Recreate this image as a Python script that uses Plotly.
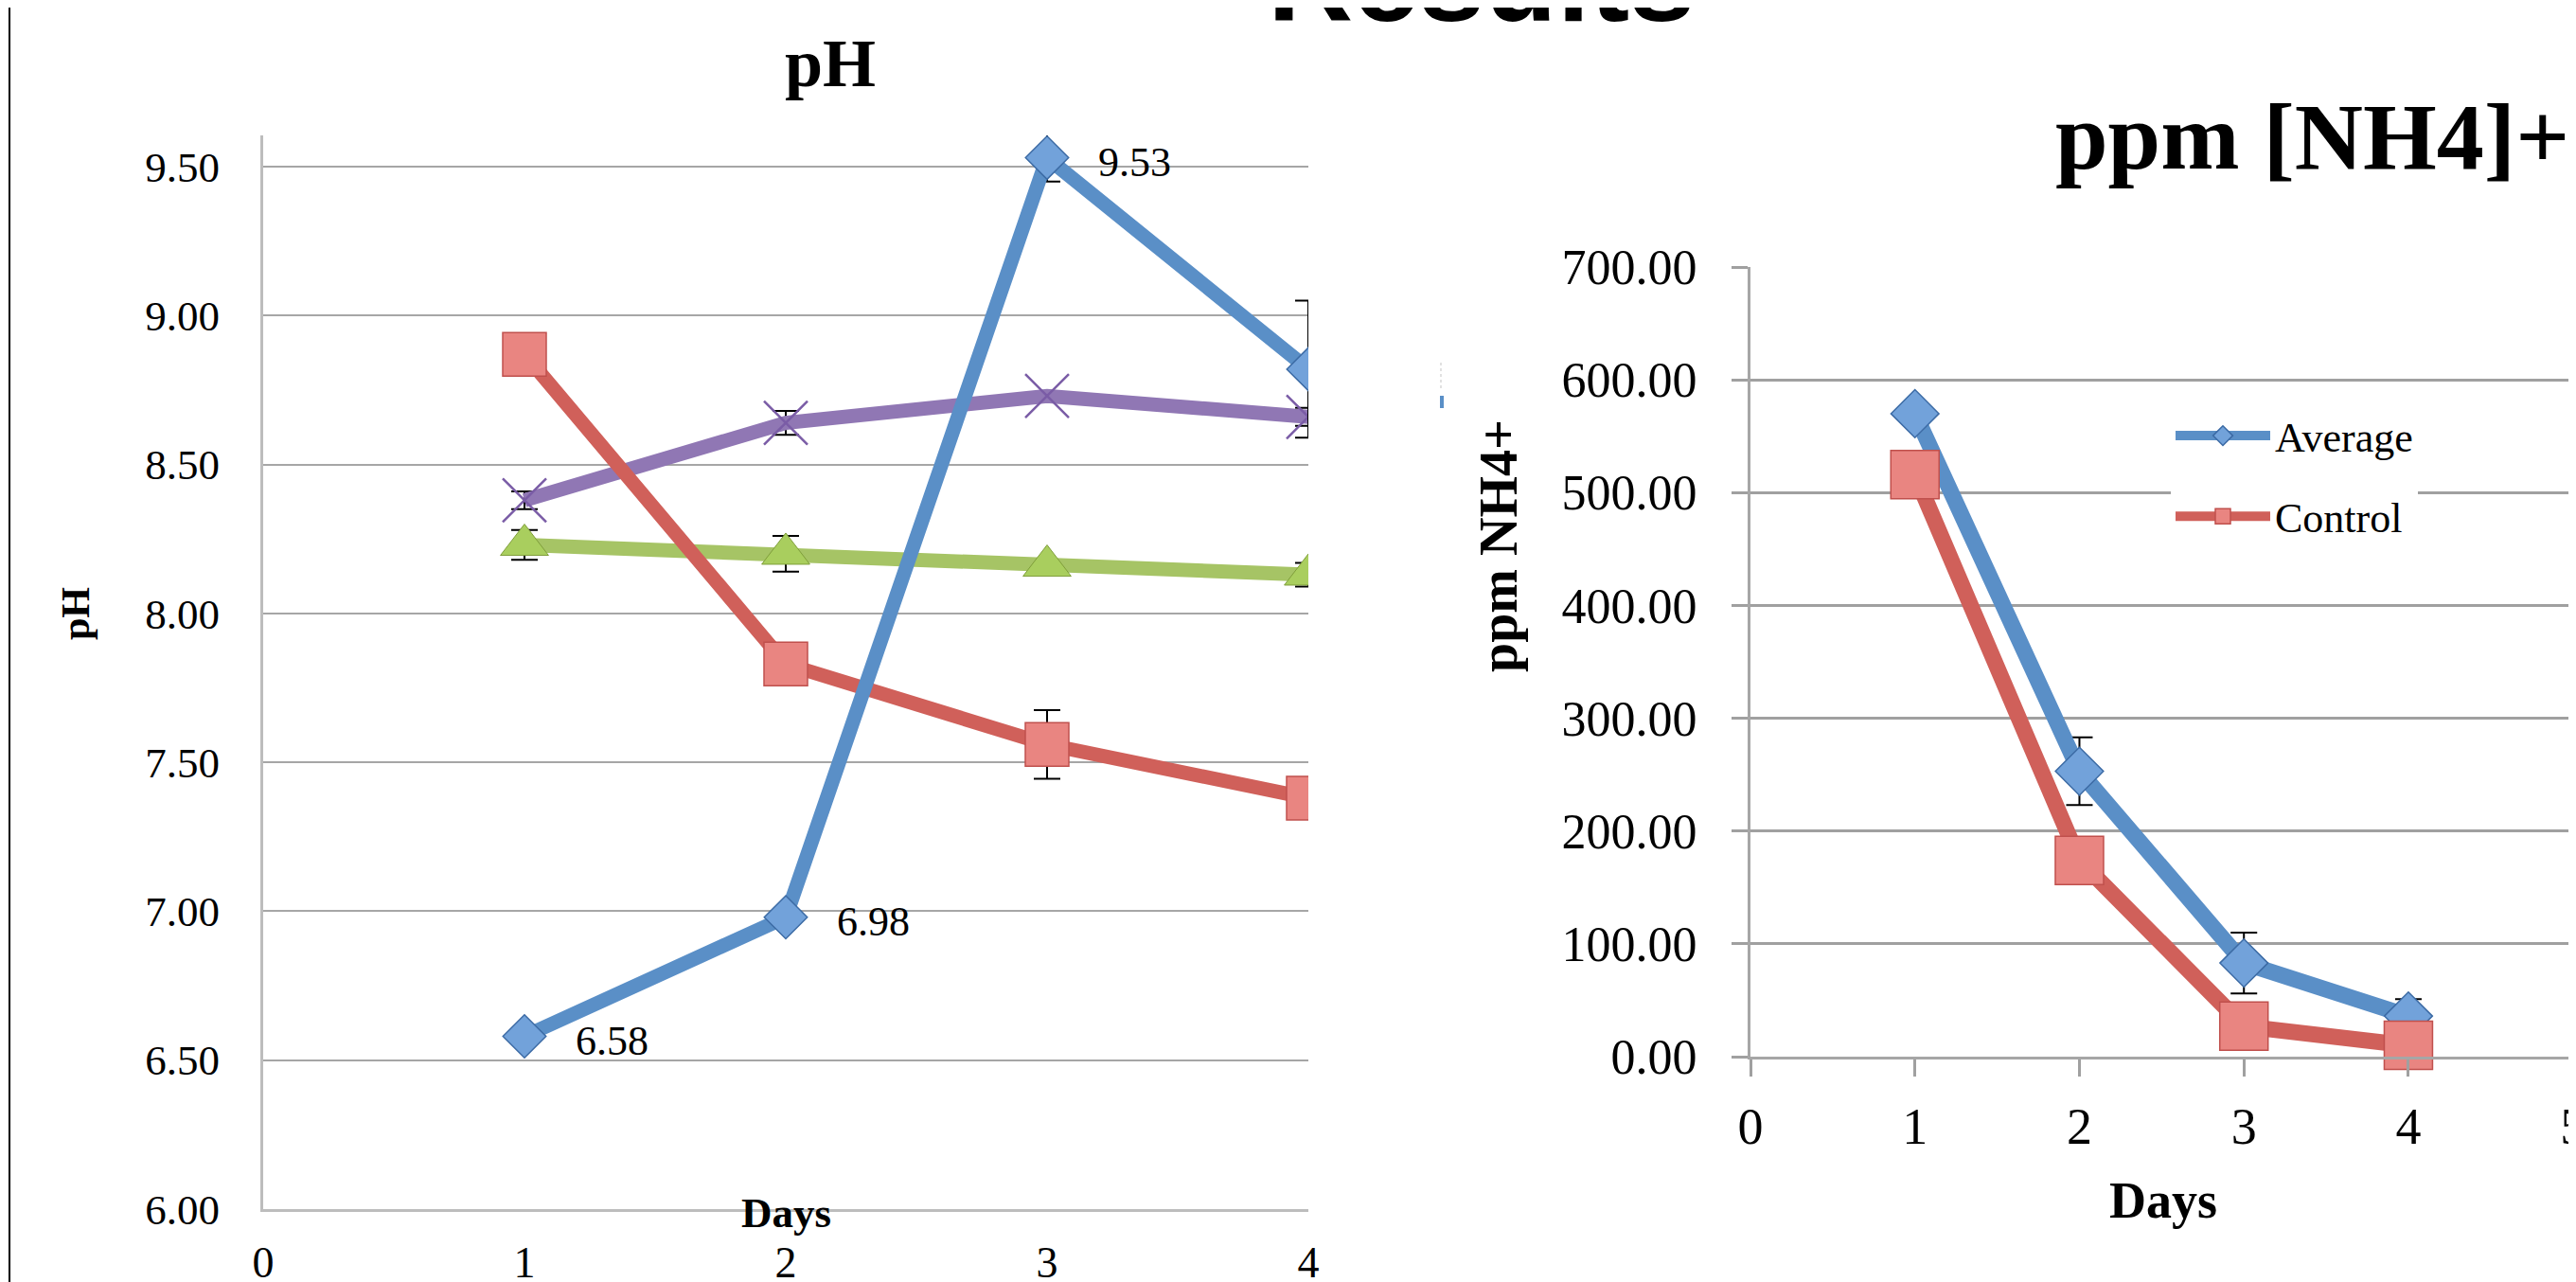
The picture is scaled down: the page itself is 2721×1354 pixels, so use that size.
import plotly.graph_objects as go

# ---------------- data ----------------
days = [1, 2, 3, 4]

# pH chart (left)
ph_blue = [6.58, 6.98, 9.53, 8.82]
ph_blue_err = [0.0, 0.0, 0.08, 0.23]
ph_red = [8.87, 7.83, 7.56, 7.38]
ph_red_err = [0.0, 0.0, 0.115, 0.0]
ph_purple = [8.38, 8.64, 8.73, 8.66]
ph_purple_err = [0.03, 0.04, 0.0, 0.03]
ph_green = [8.23, 8.20, 8.16, 8.13]
ph_green_err = [0.05, 0.06, 0.0, 0.04]
ph_labels_idx = [0, 1, 2]

# ppm [NH4]+ chart (right)
nh4_avg = [570, 253, 83, 36]
nh4_avg_err = [0, 30, 27, 15]
nh4_ctrl = [516, 174, 27, 10]
series_names = ["Average", "Control"]

# page body has an 8px margin: the figure starts 8px in from the page corner
OFF = 8
W, H = 2721 - OFF, 1354 - OFF
def px(x):
    return (x - OFF) / W
def py(y):
    return 1 - (y - OFF) / H

SERIF = "Liberation Serif, Times New Roman, serif"
BLUE_L, BLUE_F, BLUE_E = "#5A8FC7", "#72A2DA", "#3C6BA5"
RED_L, RED_F, RED_E = "#D0605A", "#E98581", "#C0504D"
PUR_L, PUR_M = "#9077B4", "#7A5CA6"
GRN_L, GRN_F, GRN_E = "#A6C465", "#A9CE5E", "#7F9E3A"

def err(arr):
    return dict(type="data", array=arr, visible=True, color="black", thickness=2, width=14)

fig = go.Figure()

# ---- left chart traces ----
fig.add_trace(go.Scatter(x=days, y=ph_purple, mode="lines+markers", xaxis="x", yaxis="y",
                         line=dict(color=PUR_L, width=15),
                         marker=dict(symbol="x-thin", size=46, line=dict(color=PUR_M, width=2.5)),
                         error_y=err(ph_purple_err), showlegend=False))
fig.add_trace(go.Scatter(x=days, y=ph_green, mode="lines+markers", xaxis="x", yaxis="y",
                         line=dict(color=GRN_L, width=15),
                         marker=dict(symbol="triangle-up", size=44, color=GRN_F, line=dict(color=GRN_E, width=1)),
                         error_y=err(ph_green_err), showlegend=False))
fig.add_trace(go.Scatter(x=days, y=ph_red, mode="lines+markers", xaxis="x", yaxis="y",
                         line=dict(color=RED_L, width=15),
                         marker=dict(symbol="square", size=46, color=RED_F, line=dict(color=RED_E, width=1.5)),
                         error_y=err(ph_red_err), showlegend=False))
fig.add_trace(go.Scatter(x=days, y=ph_blue, mode="lines+markers", xaxis="x", yaxis="y",
                         line=dict(color=BLUE_L, width=15),
                         marker=dict(symbol="diamond", size=35, color=BLUE_F, line=dict(color=BLUE_E, width=1.5)),
                         error_y=err(ph_blue_err), showlegend=False))

# ---- right chart traces ----
fig.add_trace(go.Scatter(x=days, y=nh4_avg, mode="lines+markers", xaxis="x2", yaxis="y2",
                         name=series_names[0], legendgroup="a", cliponaxis=False,
                         line=dict(color=BLUE_L, width=17),
                         marker=dict(symbol="diamond", size=39, color=BLUE_F, line=dict(color=BLUE_E, width=1.5)),
                         error_y=err(nh4_avg_err)))
fig.add_trace(go.Scatter(x=days, y=nh4_ctrl, mode="lines+markers", xaxis="x2", yaxis="y2",
                         name=series_names[1], legendgroup="b", cliponaxis=False,
                         line=dict(color=RED_L, width=17),
                         marker=dict(symbol="square", size=51, color=RED_F, line=dict(color=RED_E, width=1.5))))

annotations = []
# data labels on the blue pH series
for i in ph_labels_idx:
    annotations.append(dict(x=days[i], y=ph_blue[i], xref="x", yref="y", text=f"{ph_blue[i]:.2f}",
                            showarrow=False, xanchor="left", yanchor="middle", xshift=52, yshift=-5,
                            font=dict(family=SERIF, size=44, color="black")))

# titles and axis titles
annotations += [
    dict(x=px(1565), y=py(50), xref="paper", yref="paper", text="<b>Results</b>", showarrow=False,
         xanchor="center", yanchor="bottom", font=dict(family="Liberation Sans, Arial, sans-serif", size=125, color="black")),
    dict(x=px(877), y=py(67), xref="paper", yref="paper", text="<b>pH</b>", showarrow=False,
         xanchor="center", yanchor="middle", font=dict(family=SERIF, size=72, color="black")),
    dict(x=px(2442), y=py(145), xref="paper", yref="paper", text="<b>ppm [NH4]+</b>", showarrow=False,
         xanchor="center", yanchor="middle", font=dict(family=SERIF, size=100, color="black")),
    dict(x=px(80), y=py(648), xref="paper", yref="paper", text="<b>pH</b>", showarrow=False, textangle=-90,
         xanchor="center", yanchor="middle", font=dict(family=SERIF, size=42, color="black")),
    dict(x=px(830), y=py(1281), xref="paper", yref="paper", text="<b>Days</b>", showarrow=False,
         xanchor="center", yanchor="middle", font=dict(family=SERIF, size=45, color="black")),
    dict(x=px(1583), y=py(576), xref="paper", yref="paper", text="<b>ppm NH4+</b>", showarrow=False, textangle=-90,
         xanchor="center", yanchor="middle", font=dict(family=SERIF, size=56, color="black")),
    dict(x=px(2285), y=py(1268), xref="paper", yref="paper", text="<b>Days</b>", showarrow=False,
         xanchor="center", yanchor="middle", font=dict(family=SERIF, size=54, color="black")),
]

shapes = [
    # slide border at left
    dict(type="line", xref="paper", yref="paper", x0=px(10), x1=px(10), y0=0, y1=1,
         line=dict(color="black", width=2)),
    # small blue stub between charts
    dict(type="rect", xref="paper", yref="paper", x0=px(1521), x1=px(1525), y0=py(431), y1=py(418),
         line=dict(width=0), fillcolor="#5A8FC7"),
    dict(type="line", xref="paper", yref="paper", x0=px(1522), x1=px(1522), y0=py(410), y1=py(382),
         line=dict(color="#D8D8D8", width=1.5, dash="dot")),
]

fig.update_layout(
    width=W, height=H, autosize=False,
    margin=dict(l=0, r=0, t=0, b=0, pad=0, autoexpand=False),
    paper_bgcolor="white", plot_bgcolor="white",
    font=dict(family=SERIF, color="black"),
    annotations=annotations, shapes=shapes,
    xaxis=dict(domain=[px(278), px(1382)], range=[0, 4], tick0=0, dtick=1, anchor="y",
               showgrid=False, zeroline=False, showline=True, linecolor="#BDBDBD", linewidth=3,
               ticks="", tickfont=dict(family=SERIF, size=46, color="black"), ticklabelstandoff=14,
               ticklabeloverflow="allow", automargin=False),
    yaxis=dict(domain=[py(1277), py(143)], range=[6, 9.605], tick0=6, dtick=0.5, tickformat=".2f", anchor="x",
               showgrid=True, gridcolor="#A6A6A6", gridwidth=2, zeroline=False,
               showline=True, linecolor="#BDBDBD", linewidth=3,
               ticks="", tickfont=dict(family=SERIF, size=45, color="black"), ticklabelstandoff=34,
               automargin=False),
    xaxis2=dict(domain=[px(1849), 1.0], range=[0, 5.019], tick0=0, dtick=1, anchor="y2",
                showgrid=False, zeroline=False, showline=True, linecolor="#A6A6A6", linewidth=3,
                ticks="outside", ticklen=18, tickwidth=3, tickcolor="#A0A0A0",
                tickfont=dict(family=SERIF, size=54, color="black"), ticklabelstandoff=6,
                ticklabeloverflow="allow", automargin=False),
    yaxis2=dict(domain=[py(1116), py(282)], range=[0, 700], tick0=0, dtick=100, tickformat=".2f", anchor="x2",
                showgrid=True, gridcolor="#A0A0A0", gridwidth=3, zeroline=False,
                showline=True, linecolor="#A6A6A6", linewidth=3,
                ticks="outside", ticklen=17, tickwidth=3, tickcolor="#A0A0A0",
                tickfont=dict(family=SERIF, size=52, color="black"), ticklabelstandoff=26,
                automargin=False),
    showlegend=True,
    legend=dict(x=px(2293), y=py(425), xanchor="left", yanchor="top", bgcolor="white",
                font=dict(family=SERIF, size=44, color="black"), itemwidth=100,
                traceorder="grouped", tracegroupgap=25, borderwidth=0),
)

fig.write_html("out.html")
